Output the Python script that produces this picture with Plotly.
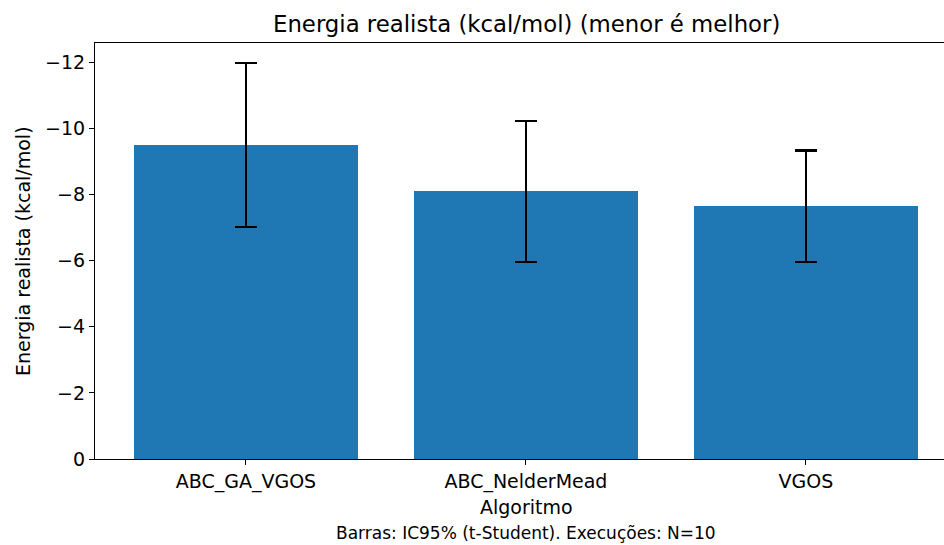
import plotly.graph_objects as go

algorithms = ["ABC_GA_VGOS", "ABC_NelderMead", "VGOS"]
mean_energy = [-9.49, -8.09, -7.64]
ci95 = [2.48, 2.14, 1.69]
y_ticks = [0, -2, -4, -6, -8, -10, -12]

W, H = 944, 545
L, R, T, B = 95, 0, 43, 86
pw = W - L - R
ax_center_px = 526
xc = (ax_center_px - L) / pw

fig = go.Figure()
fig.add_trace(go.Bar(
    x=list(range(len(algorithms))), y=mean_energy, width=0.8,
    marker=dict(color="#1f77b4", line=dict(width=0)),
    error_y=dict(type="data", array=ci95, visible=True, color="black",
                 thickness=2.3, width=11),
))

font = "DejaVu Sans"
fig.update_layout(
    width=W, height=H, margin=dict(l=L, r=R, t=T, b=B),
    paper_bgcolor="white", plot_bgcolor="white",
    showlegend=False, bargap=0,
    font=dict(family=font, size=19, color="black"),
    xaxis=dict(range=[-0.539, 2.493], tickmode="array",
               tickvals=list(range(len(algorithms))), ticktext=algorithms,
               showline=True, linecolor="black", linewidth=1.2, mirror=True,
               ticks="outside", ticklen=5, tickcolor="black", showgrid=False,
               zeroline=False, tickfont=dict(size=19)),
    yaxis=dict(range=[0, -12.58], tickmode="array", tickvals=y_ticks,
               showline=True, linecolor="black", linewidth=1.2, mirror=False,
               ticks="outside", ticklen=5, tickcolor="black", showgrid=False,
               zeroline=False, tickfont=dict(size=19)),
    annotations=[
        dict(text="Energia realista (kcal/mol) (menor é melhor)", x=xc, y=1,
             xref="paper", yref="paper", yshift=19, showarrow=False,
             font=dict(size=22.8), xanchor="center", yanchor="middle"),
        dict(text="Algoritmo", x=xc, y=0, xref="paper", yref="paper",
             yshift=-48, showarrow=False, font=dict(size=19),
             xanchor="center", yanchor="middle"),
        dict(text="Barras: IC95% (t-Student). Execuções: N=10", x=xc, y=0,
             xref="paper", yref="paper", yshift=-74, showarrow=False,
             font=dict(size=17), xanchor="center", yanchor="middle"),
        dict(text="Energia realista (kcal/mol)", x=0, y=0.5, xref="paper",
             yref="paper", xshift=-72, textangle=-90, showarrow=False,
             font=dict(size=19), xanchor="center", yanchor="middle"),
    ],
)
fig.write_html("out.html")
